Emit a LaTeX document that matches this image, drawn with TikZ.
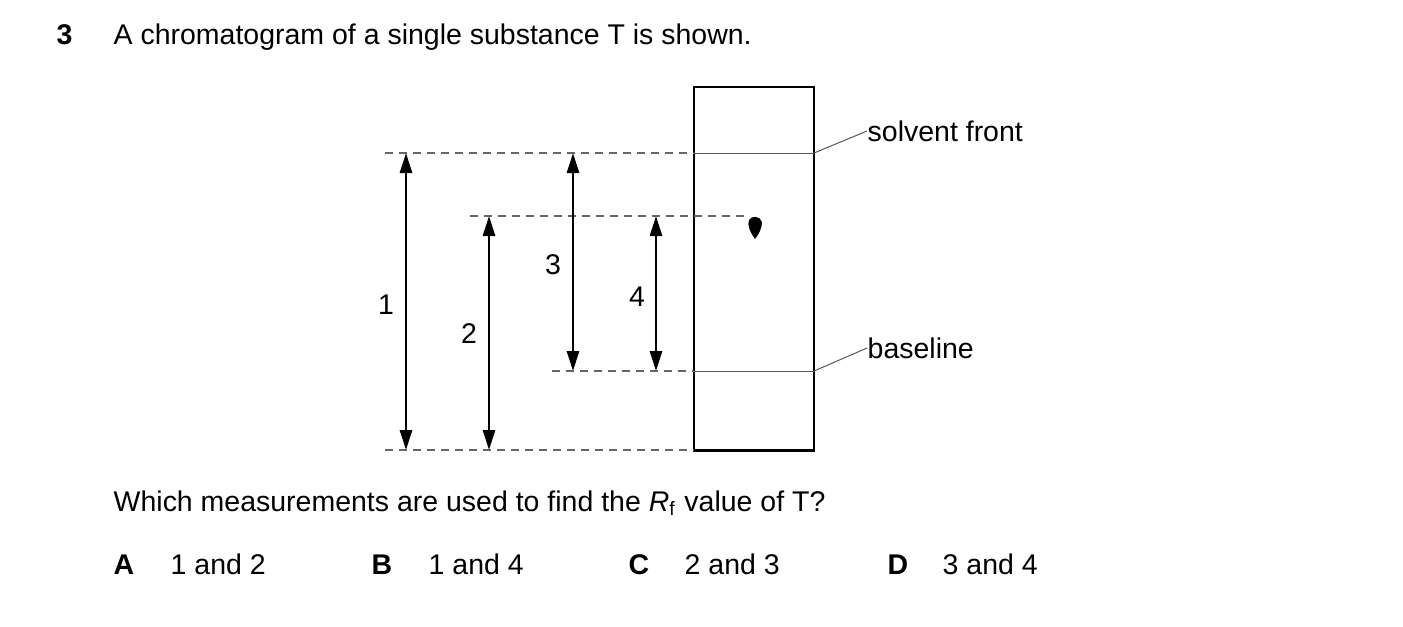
\documentclass[tikz,border=0pt]{standalone}
\usepackage{fontspec}
\setmainfont{Liberation Sans}
\usetikzlibrary{arrows.meta}
\tikzset{
  dim/.style={line width=0.28mm,{Triangle[length=2mm,width=1.2mm]}-{Triangle[length=2mm,width=1.2mm]}},
  guide/.style={dashed,dash pattern=on 0.8mm off 0.6mm,line width=0.15mm,gray!80!black},
  txt/.style={inner sep=0pt,font=\fontsize{8.1}{10}\selectfont},
  bold/.style={txt,font=\fontsize{8.1}{10}\selectfont\bfseries},
  lead/.style={line width=0.1mm,gray!70!black}
}
\begin{document}
\begin{tikzpicture}[x=0.01cm,y=-0.01cm]
    \useasboundingbox (0,0) rectangle (1403,626);
    % question
    \node[bold,anchor=base west] (num) at (56,44) {3};
    \node[txt,anchor=base west] (q) at (113,44) {A chromatogram of a single substance T is shown.};

    % paper and lines
    \node[draw,line width=0.28mm,minimum width=1.2cm,minimum height=3.63cm,inner sep=0pt] (paper) at (754,268.5) {};
    \coordinate (sfL) at (385,153);  \coordinate (sfP) at (694,153);  \coordinate (sfR) at (814,153);
    \coordinate (spL) at (470,216);  \coordinate (spR) at (748,216);
    \coordinate (blL) at (552,371);  \coordinate (blP) at (694,371);  \coordinate (blR) at (814,371);
    \coordinate (btL) at (385,450);  \coordinate (btR) at (694,450);
    \draw[guide] (sfL) -- (sfP);
    \draw[guide] (spL) -- (spR);
    \draw[guide] (blL) -- (blP);
    \draw[guide] (btL) -- (btR);
    \draw[lead] (sfP) -- (sfR);
    \draw[lead] (blP) -- (blR);
    \fill (755,239) .. controls (750,232) and (747,225) .. (749,220)
        .. controls (752,215) and (760,216) .. (762,222)
        .. controls (762,228) and (759,234) .. (755,239);

    % labels
    \node[txt,anchor=west] (sf) at (867,131) {solvent front};
    \node[txt,anchor=west] (bl) at (867,348) {baseline};
    \draw[lead] (sfR) -- (sf.west);
    \draw[lead] (blR) -- (bl.west);

    % measurements
    \coordinate (a1) at (406,153); \coordinate (b1) at (406,450);
    \coordinate (a2) at (489,216); \coordinate (b2) at (489,450);
    \coordinate (a3) at (573,153); \coordinate (b3) at (573,371);
    \coordinate (a4) at (656,216); \coordinate (b4) at (656,371);
    \draw[dim] (a1) -- (b1);
    \draw[dim] (a2) -- (b2);
    \draw[dim] (a3) -- (b3);
    \draw[dim] (a4) -- (b4);
    \node[txt] (l1) at (386,305) {1};
    \node[txt] (l2) at (469,334) {2};
    \node[txt] (l3) at (553,265) {3};
    \node[txt] (l4) at (637,297) {4};

    % answers
    \node[txt,anchor=base west] (ask) at (113,511) {Which measurements are used to find the \textit{R}\textsubscript{\fontsize{5.5}{6}\selectfont f} value of T?};
    \node[bold,anchor=base west] (A) at (113,574) {A};
    \node[txt,anchor=base west] (oa) at (170,574) {1 and 2};
    \node[bold,anchor=base west] (B) at (371,574) {B};
    \node[txt,anchor=base west] (ob) at (428,574) {1 and 4};
    \node[bold,anchor=base west] (C) at (628,574) {C};
    \node[txt,anchor=base west] (oc) at (684,574) {2 and 3};
    \node[bold,anchor=base west] (D) at (887,574) {D};
    \node[txt,anchor=base west] (od) at (942,574) {3 and 4};
\end{tikzpicture}
\end{document}
